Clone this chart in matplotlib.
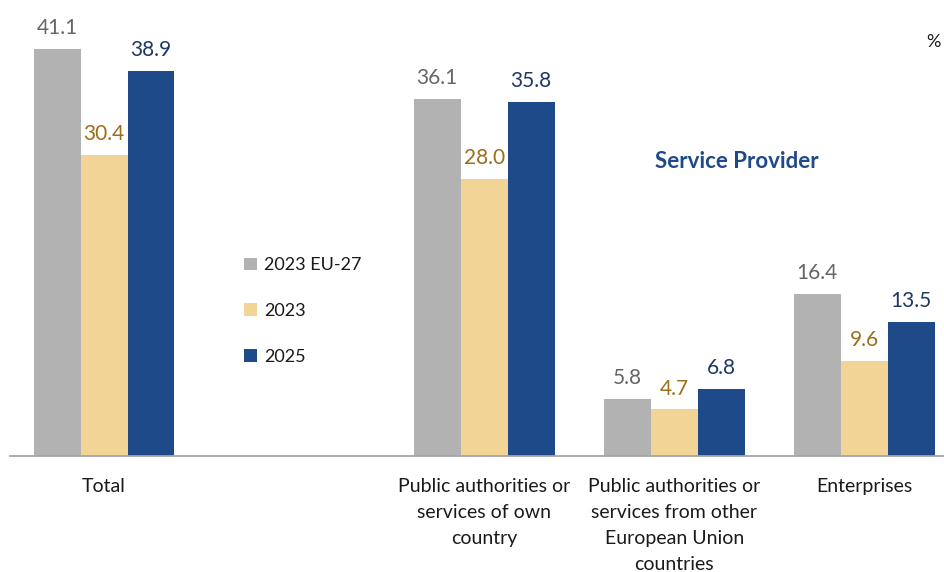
import matplotlib.pyplot as plt
import numpy as np

plt.rcParams['font.family'] = ['Lato', 'DejaVu Sans']

categories = ['Total', '',
              'Public authorities or\nservices of own\ncountry',
              'Public authorities or\nservices from other\nEuropean Union\ncountries',
              'Enterprises']
series_names = ['2023 EU-27', '2023', '2025']
eu27_2023 = [41.1, None, 36.1, 5.8, 16.4]
own_2023 = [30.4, None, 28.0, 4.7, 9.6]
own_2025 = [38.9, None, 35.8, 6.8, 13.5]

bar_colors = ['#B2B2B2', '#F2D496', '#1F4A8A']
label_colors = ['#666666', '#9A6E1C', '#1F3864']

fig = plt.figure(figsize=(9.44, 5.72), dpi=100)
# axes placed in pixel terms: left edge 10px, baseline 456px from top
ax = fig.add_axes([10 / 944, (572 - 456) / 572, 934 / 944, 445.5 / 572])

x = np.arange(len(categories))
width = 0.247
handles = []
for i, (vals, name) in enumerate(zip([eu27_2023, own_2023, own_2025], series_names)):
    pos = [xi + (i - 1) * width for xi, v in zip(x, vals) if v is not None]
    heights = [v for v in vals if v is not None]
    bars = ax.bar(pos, heights, width=width, color=bar_colors[i], label=name)
    handles.append(bars)
    for p, h in zip(pos, heights):
        ax.text(p, h + 1.1, f'{h:.1f}', ha='center', va='bottom',
                fontsize=15, color=label_colors[i])

ax.set_xlim(-0.495, 4.42)
ax.set_ylim(0, 45)
ax.set_yticks([])
ax.set_xticks(x)
ax.set_xticklabels(categories, fontsize=14, color='#1a1a1a', va='top')
for lbl in ax.get_xticklabels():
    lbl.set_linespacing(1.64)
ax.tick_params(axis='x', length=0, pad=16)
for side in ['top', 'right', 'left']:
    ax.spines[side].set_visible(False)
ax.spines['bottom'].set_color('#A6A6A6')
ax.spines['bottom'].set_linewidth(1.3)

leg = ax.legend(handles=handles, loc='center left', bbox_to_anchor=(228 / 944, 1 - 311 / 572),
                bbox_transform=fig.transFigure, frameon=False, fontsize=13,
                handlelength=0.7, handleheight=0.7, handletextpad=0.4, labelspacing=1.65)
for t in leg.get_texts():
    t.set_color('#1a1a1a')

fig.text(737 / 944, 1 - 162 / 572, 'Service Provider', ha='center', va='center',
         fontsize=16, fontweight='bold', color='#1F4A8A')
fig.text(933 / 944, 1 - 42 / 572, '%', ha='center', va='center', fontsize=13, color='#1a1a1a')

fig.savefig('out.png', dpi=100)
